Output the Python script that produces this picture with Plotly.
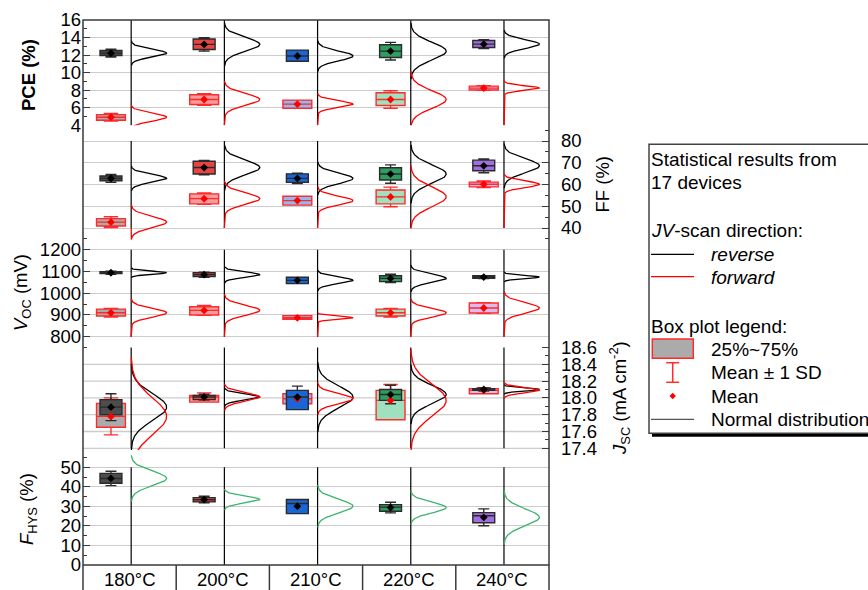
import numpy as np
import plotly.graph_objects as go

# ---------------- data ----------------
CATS = ["180°C", "200°C", "210°C", "220°C", "240°C"]

PCE_REV_MEAN = [12.22, 13.22, 11.90, 12.45, 13.25]
PCE_REV_SD = [0.44, 0.77, 0.55, 1.00, 0.50]
PCE_REV_Q1 = [11.96, 12.64, 11.30, 11.72, 12.87]
PCE_REV_Q3 = [12.53, 13.83, 12.57, 13.18, 13.67]
PCE_FWD_MEAN = [4.92, 6.94, 6.41, 6.94, 8.24]
PCE_FWD_SD = [0.44, 0.66, 0.38, 1.00, 0.26]
PCE_FWD_Q1 = [4.57, 6.37, 5.95, 6.26, 8.02]
PCE_FWD_Q3 = [5.22, 7.48, 6.87, 7.71, 8.47]

FF_REV_MEAN = [62.8, 67.8, 62.8, 64.8, 68.6]
FF_REV_SD = [1.8, 3.3, 2.4, 4.2, 3.2]
FF_REV_Q1 = [61.7, 64.8, 61.0, 62.1, 66.3]
FF_REV_Q3 = [63.9, 70.7, 64.9, 67.7, 71.2]
FF_FWD_MEAN = [42.7, 53.5, 52.6, 54.3, 60.1]
FF_FWD_SD = [2.5, 2.6, 2.0, 4.5, 1.5]
FF_FWD_Q1 = [40.9, 51.1, 50.5, 51.1, 58.9]
FF_FWD_Q3 = [44.3, 55.7, 54.6, 57.5, 61.1]

VOC_REV_MEAN = [1094, 1085, 1059, 1068, 1074]
VOC_REV_SD = [7, 12, 15, 19, 7]
VOC_REV_Q1 = [1090, 1076, 1044, 1053, 1068]
VOC_REV_Q3 = [1099, 1094, 1073, 1080, 1080]
VOC_FWD_MEAN = [910, 921, 887, 910, 932]
VOC_FWD_SD = [20, 23, 7, 20, 24]
VOC_FWD_Q1 = [895, 900, 880, 895, 909]
VOC_FWD_Q3 = [927, 938, 897, 927, 955]

JSC_REV_MEAN = [17.89, 18.01, 18.01, 18.04, 18.10]
JSC_REV_SD = [0.16, 0.035, 0.13, 0.11, 0.018]
JSC_REV_Q1 = [17.80, 17.98, 17.86, 17.97, 18.09]
JSC_REV_Q3 = [17.98, 18.03, 18.09, 18.10, 18.11]
JSC_FWD_MEAN = [17.78, 18.01, 17.99, 17.97, 18.09]
JSC_FWD_SD = [0.22, 0.05, 0.06, 0.19, 0.03]
JSC_FWD_Q1 = [17.65, 17.95, 17.93, 17.74, 18.05]
JSC_FWD_Q3 = [17.935, 18.03, 18.05, 18.09, 18.11]

FHYS_MEAN = [44.3, 33.5, 30.1, 29.4, 24.4]
FHYS_SD = [3.7, 1.7, 3.4, 2.7, 4.3]
FHYS_Q1 = [41.8, 32.3, 26.3, 27.5, 21.6]
FHYS_Q3 = [46.9, 34.5, 33.5, 30.9, 26.8]
FHYS_MEDIAN = [44.3, 33.4, 31.5, 29.6, 25.2]

PCE_TICKS = [4, 6, 8, 10, 12, 14, 16]
FF_TICKS = [40, 50, 60, 70, 80]
VOC_TICKS = [800, 900, 1000, 1100, 1200]
JSC_TICKS = [17.4, 17.6, 17.8, 18.0, 18.2, 18.4, 18.6]
JSC_GRID = [17.4, 17.6, 17.8, 18.0, 18.2, 18.4]
FHYS_TICKS = [0, 10, 20, 30, 40, 50]

# ---------------- style / layout ----------------
REV_FILL = ["#4d4d4d", "#e84444", "#1a66d6", "#2e9e60", "#a06ede"]
FWD_FILL = ["#ababab", "#f79c9c", "#8fb9f2", "#9fe0be", "#d8bcf2"]
REV_LINE = "#2b2b2b"
FWD_LINE = "#ff2a2a"
GREEN = "#3cb46e"
FONT = "Liberation Sans, Arial, sans-serif"
GRID = "#cccccc"
AXC = "#3a3a3a"
FS = 18.5
FS_LEG = 19

W_FIG, H_FIG = 868, 590
PL, PR, PT, PB = 83, 549, 20, 565
PW, PH = PR - PL, PB - PT


def px2x(px):
    return (px - PL) / PW


def py2y(py):
    return (PB - py) / PH


def dom(v_lo, px_lo, v_hi, px_hi, r_lo, r_hi):
    s = (px_lo - px_hi) / (v_hi - v_lo)
    top = px_hi - (r_hi - v_hi) * s
    bot = px_lo + (v_lo - r_lo) * s
    return [max(0.0, py2y(bot)), min(1.0, py2y(top))]


BOX_OFF = 0.30
VLINE_OFF = 0.517
AMP = 0.38
W_REV = 0.235
W_FWD = 0.31

n = len(CATS)
pos_box = [i + BOX_OFF for i in range(n)]
pos_vl = [i + VLINE_OFF for i in range(n)]

fig = go.Figure()


def vlines(ax, lo, hi):
    xs, ys = [], []
    for v in pos_vl:
        xs += [v, v, None]
        ys += [lo, hi, None]
    fig.add_trace(go.Scatter(x=xs, y=ys, mode="lines", line=dict(color="black", width=1.2),
                             xaxis="x", yaxis=ax, hoverinfo="skip", showlegend=False))


def curves(ax, means, sds, color, extend_lo=None):
    for i in range(n):
        m, s = means[i], sds[i]
        yy = np.linspace(m - 3.2 * s, m + 3.2 * s, 160)
        xx = pos_vl[i] + AMP * np.exp(-0.5 * ((yy - m) / s) ** 2)
        xx, yy = list(xx), list(yy)
        if extend_lo is not None:
            xx = [pos_vl[i]] + xx
            yy = [extend_lo] + yy
        fig.add_trace(go.Scatter(x=xx, y=yy, mode="lines", line=dict(color=color, width=1.3),
                                 xaxis="x", yaxis=ax, hoverinfo="skip", showlegend=False))


def boxes(ax, means, sds, q1, q3, fills, lcol, width, med=None):
    for i in range(n):
        md = med[i] if med is not None else means[i]
        fig.add_trace(go.Box(x=[pos_box[i]], q1=[q1[i]], median=[md], q3=[q3[i]],
                             lowerfence=[means[i] - sds[i]], upperfence=[means[i] + sds[i]],
                             orientation="v", width=width, whiskerwidth=0.5,
                             fillcolor=fills[i], line=dict(color=lcol, width=1.4),
                             boxpoints=False, xaxis="x", yaxis=ax,
                             hoverinfo="skip", showlegend=False))


def means_pts(ax, means, color):
    fig.add_trace(go.Scatter(x=pos_box, y=means, mode="markers",
                             marker=dict(symbol="diamond", size=6, color=color, line=dict(width=0)),
                             xaxis="x", yaxis=ax, hoverinfo="skip", showlegend=False))


def panel(ax, rev, fwd, lo, hi, ext_lo):
    vlines(ax, lo, hi)
    curves(ax, rev[0], rev[1], "black")
    curves(ax, fwd[0], fwd[1], "#ff0000", extend_lo=ext_lo)
    boxes(ax, fwd[0], fwd[1], fwd[2], fwd[3], FWD_FILL, FWD_LINE, W_FWD)
    boxes(ax, rev[0], rev[1], rev[2], rev[3], REV_FILL, REV_LINE, W_REV)
    means_pts(ax, fwd[0], "#ff0000")
    means_pts(ax, rev[0], "black")


panel("y5", (PCE_REV_MEAN, PCE_REV_SD, PCE_REV_Q1, PCE_REV_Q3),
      (PCE_FWD_MEAN, PCE_FWD_SD, PCE_FWD_Q1, PCE_FWD_Q3), PCE_TICKS[0], PCE_TICKS[-1], PCE_TICKS[0])
panel("y4", (FF_REV_MEAN, FF_REV_SD, FF_REV_Q1, FF_REV_Q3),
      (FF_FWD_MEAN, FF_FWD_SD, FF_FWD_Q1, FF_FWD_Q3), FF_TICKS[0], FF_TICKS[-1], FF_TICKS[0])
panel("y3", (VOC_REV_MEAN, VOC_REV_SD, VOC_REV_Q1, VOC_REV_Q3),
      (VOC_FWD_MEAN, VOC_FWD_SD, VOC_FWD_Q1, VOC_FWD_Q3), VOC_TICKS[0], VOC_TICKS[-1], VOC_TICKS[0])
panel("y2", (JSC_REV_MEAN, JSC_REV_SD, JSC_REV_Q1, JSC_REV_Q3),
      (JSC_FWD_MEAN, JSC_FWD_SD, JSC_FWD_Q1, JSC_FWD_Q3), JSC_TICKS[0], JSC_TICKS[-1], None)

# FHYS panel
vlines("y", FHYS_TICKS[0], FHYS_TICKS[-1])
curves("y", FHYS_MEAN, FHYS_SD, GREEN)
boxes("y", FHYS_MEAN, FHYS_SD, FHYS_Q1, FHYS_Q3, REV_FILL, REV_LINE, W_REV, med=FHYS_MEDIAN)
means_pts("y", FHYS_MEAN, "black")

tickfont = dict(family=FONT, size=FS, color="black")


def yax(domain, rng, side, major, minor, fmt=None, showgrid=True):
    d = dict(domain=domain, range=rng, side=side, anchor="x", automargin=False,
             tickmode="array", tickvals=major, ticks="inside", ticklen=7, tickwidth=1.2, tickcolor=AXC,
             minor=dict(tickmode="array", tickvals=minor, ticks="inside", ticklen=4, tickwidth=1.2,
                        tickcolor=AXC, showgrid=False),
             showgrid=showgrid, gridcolor=GRID, gridwidth=1.3, zeroline=False, showline=False,
             tickfont=tickfont, fixedrange=True,
             ticklabelstandoff=(1 if side == "left" else 11))
    if fmt:
        d["tickformat"] = fmt
    return d


fig.update_layout(
    width=W_FIG, height=H_FIG,
    margin=dict(l=PL, r=W_FIG - PR, t=PT, b=H_FIG - PB, pad=0, autoexpand=False),
    paper_bgcolor="white", plot_bgcolor="rgba(0,0,0,0)",
    boxmode="overlay",
    showlegend=False,
    xaxis=dict(domain=[0, 1], range=[0, n], anchor="y", automargin=False, tickmode="array",
               tickvals=[i + 0.5 for i in range(n)], ticktext=CATS, ticks="",
               showgrid=False, zeroline=False, showline=False, tickfont=tickfont,
               fixedrange=True, showticklabels=False),
    yaxis=yax(dom(0, 565, 50, 467.3, 0, 58), [0, 58], "left", FHYS_TICKS,
              list(range(0, 60, 5))),
    yaxis2=yax(dom(17.4, 448.3, 18.6, 347.5, 17.38, 18.62), [17.38, 18.62], "right", JSC_TICKS,
               [round(17.4 + 0.1 * k, 1) for k in range(13)], fmt=".1f", showgrid=False),
    yaxis3=yax(dom(800, 336.7, 1200, 249.7, 745, 1255), [745, 1255], "left", VOC_TICKS,
               list(range(750, 1251, 50))),
    yaxis4=yax(dom(40, 228, 80, 141, 34, 86), [34, 86], "right", FF_TICKS,
               list(range(35, 86, 5))),
    yaxis5=yax(dom(4, 125.3, 16, 20, 4, 16), [4, 16], "left", PCE_TICKS,
               list(range(4, 17, 1))),
)

shapes = []
# Jsc gridlines
for g in JSC_GRID:
    shapes.append(dict(type="line", xref="paper", yref="y2", x0=0, x1=1, y0=g, y1=g,
                       line=dict(color=GRID, width=1.3), layer="below"))
# frame
shapes.append(dict(type="rect", xref="paper", yref="paper", x0=0, x1=1, y0=0, y1=1,
                   line=dict(color=AXC, width=1.5), layer="above"))
# category separators below plot
for k in range(n + 1):
    shapes.append(dict(type="line", xref="paper", yref="paper", x0=k / n, x1=k / n,
                       y0=0, y1=py2y(H_FIG + 2), line=dict(color=AXC, width=1.5)))

# legend box
LX0, LY0, LX1, LY1 = 649, 144.3, 905, 433.3
shapes.append(dict(type="rect", xref="paper", yref="paper", x0=px2x(LX0 + 3), x1=px2x(LX1 + 3),
                   y0=py2y(LY1 + 3.5), y1=py2y(LY0 + 3.5), fillcolor="black", line=dict(width=0)))
shapes.append(dict(type="rect", xref="paper", yref="paper", x0=px2x(LX0), x1=px2x(LX1),
                   y0=py2y(LY1), y1=py2y(LY0), fillcolor="white", line=dict(color="#444444", width=1.5)))
# legend samples
shapes.append(dict(type="line", xref="paper", yref="paper", x0=px2x(651), x1=px2x(694),
                   y0=py2y(254.3), y1=py2y(254.3), line=dict(color="black", width=1.3)))
shapes.append(dict(type="line", xref="paper", yref="paper", x0=px2x(651), x1=px2x(694),
                   y0=py2y(276.7), y1=py2y(276.7), line=dict(color="#ff0000", width=1.3)))
shapes.append(dict(type="rect", xref="paper", yref="paper", x0=px2x(652.3), x1=px2x(693.3),
                   y0=py2y(358.3), y1=py2y(339), fillcolor="#ababab", line=dict(color="#ff2a2a", width=1.5)))
wx = 672.7
shapes.append(dict(type="line", xref="paper", yref="paper", x0=px2x(wx), x1=px2x(wx),
                   y0=py2y(382.3), y1=py2y(362.7), line=dict(color="#ff2a2a", width=1.5)))
for yy in (362.7, 382.3):
    shapes.append(dict(type="line", xref="paper", yref="paper", x0=px2x(wx - 6.5), x1=px2x(wx + 6.5),
                       y0=py2y(yy), y1=py2y(yy), line=dict(color="#ff2a2a", width=1.5)))
dy = 396
path = "M {} {} L {} {} L {} {} L {} {} Z".format(
    px2x(wx), py2y(dy - 3.2), px2x(wx + 3.2), py2y(dy), px2x(wx), py2y(dy + 3.2), px2x(wx - 3.2), py2y(dy))
shapes.append(dict(type="path", xref="paper", yref="paper", path=path, fillcolor="#ff0000",
                   line=dict(width=0)))
shapes.append(dict(type="line", xref="paper", yref="paper", x0=px2x(651), x1=px2x(694),
                   y0=py2y(419.3), y1=py2y(419.3), line=dict(color="#555555", width=1.3)))

ann = []


def txt(s, x, y, anchor="left", angle=0, size=FS):
    ann.append(dict(text=s, xref="paper", yref="paper", x=px2x(x), y=py2y(y), xanchor=anchor,
                    yanchor="middle", showarrow=False, textangle=angle,
                    font=dict(family=FONT, size=size, color="black")))


txt("Statistical results from", 649, 159.3, size=FS_LEG)
txt("17 devices", 649, 182.7, size=FS_LEG)
txt("<i>JV</i>-scan direction:", 649, 231, size=FS_LEG)
txt("<i>reverse</i>", 709, 254, size=FS_LEG)
txt("<i>forward</i>", 709, 277, size=FS_LEG)
txt("Box plot legend:", 649, 326.7, size=FS_LEG)
txt("25%~75%", 709, 349.3, size=FS_LEG)
txt("Mean ± 1 SD", 709, 372.3, size=FS_LEG)
txt("Mean", 709, 396, size=FS_LEG)
txt("Normal distribution", 709, 419.3, size=FS_LEG)

# category labels (below the frame)
for i, c in enumerate(CATS):
    ann.append(dict(text=c, xref="x", yref="paper", x=i + 0.5, y=py2y(579.5), xanchor="center",
                    yanchor="middle", showarrow=False, font=dict(family=FONT, size=FS, color="black")))

# axis titles
txt("<b>PCE (%)</b>", 29, 75, anchor="center", angle=-90)
txt("FF (%)", 602, 184.5, anchor="center", angle=-90)
txt("<i>V</i><sub>OC</sub> (mV)", 22, 292, anchor="center", angle=-90)
txt("<i>J</i><sub>SC</sub> (mA cm<sup>-2</sup>)", 620, 398, anchor="center", angle=-90)
txt("<i>F</i><sub>HYS</sub> (%)", 28, 509, anchor="center", angle=-90)

fig.update_layout(shapes=shapes, annotations=ann)

fig.write_html("out.html")
